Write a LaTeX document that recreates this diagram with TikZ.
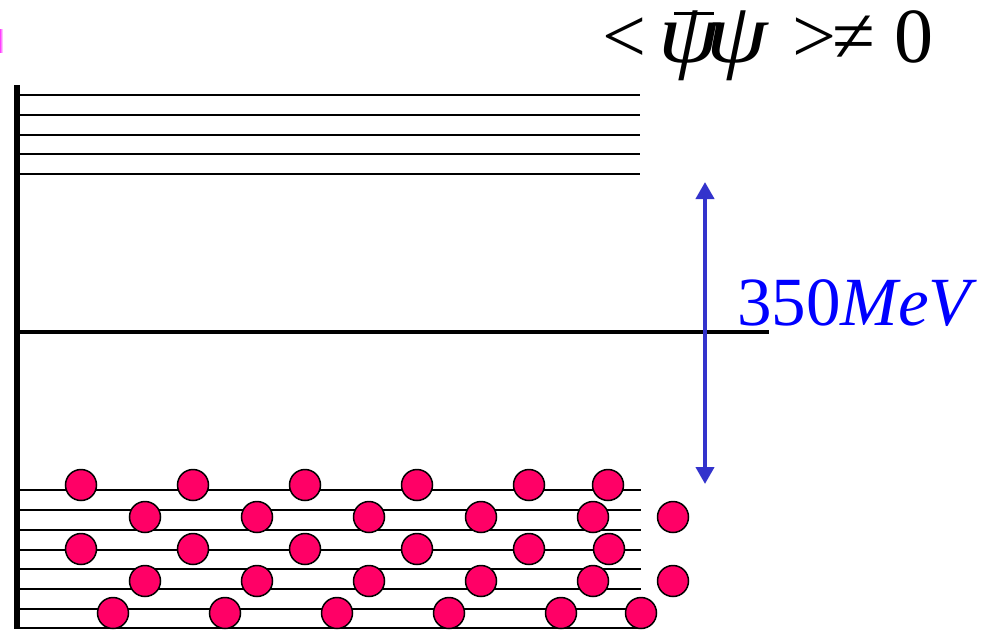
\documentclass[tikz,border=0pt]{standalone}
\usepackage{graphicx}
\usepackage{fontspec}
\setmainfont{Liberation Serif}
\usetikzlibrary{arrows.meta}
\definecolor{dotfill}{HTML}{FF0066}
\definecolor{arrowblue}{HTML}{3333CC}
\definecolor{labelblue}{HTML}{0000FF}
\newcommand{\psiglyph}{\scalebox{1.15}[1]{\fontsize{86}{90}\selectfont\itshape ψ}}
\tikzset{
  level/.style={line width=2pt, black},
  gapline/.style={line width=4.5pt, black},
  axis/.style={line width=6pt, black},
  dot/.style={circle, draw=black, line width=1.5pt, fill=dotfill, minimum size=31pt, inner sep=0pt},
  gaparrow/.style={arrowblue, line width=4pt, {Triangle[width=18pt,length=17pt]}-{Triangle[width=18pt,length=17pt]}},
  bigtext/.style={inner sep=0pt, font=\fontsize{78}{84}\selectfont},
  midtext/.style={inner sep=0pt, font=\fontsize{69}{76}\selectfont}
}
\begin{document}
\begin{tikzpicture}[x=1pt,y=-1pt]
\useasboundingbox (0,0) rectangle (998,629);
\fill[white] (0,0) rectangle (998,629);
% small pink fragment at the left edge
\shade[left color=magenta!75, right color=white] (0,29) rectangle (3,52);
% upper levels
\foreach \y [count=\i] in {95,115,134.5,154,174}{
  \coordinate (u\i a) at (20,\y);
  \coordinate (u\i b) at (640,\y);
  \draw[level] (u\i a) -- (u\i b);
}
% lower levels
\foreach \y [count=\i] in {490,510,530,549.5,569,589,609,628}{
  \coordinate (l\i a) at (20,\y);
  \coordinate (l\i b) at (641,\y);
  \draw[level] (l\i a) -- (l\i b);
}
% gap line
\coordinate (ga) at (20,332);
\coordinate (gb) at (769,332);
\draw[gapline] (ga) -- (gb);
% axis
\coordinate (axtop) at (17,85);
\coordinate (axbot) at (17,629);
\draw[axis] (axtop) -- (axbot);
% circles
\foreach \x [count=\i] in {81,193,305,417,529,608}{ \node[dot] (r1c\i) at (\x,485) {}; }
\foreach \x [count=\i] in {145,257,369,481,593,673}{ \node[dot] (r2c\i) at (\x,517) {}; }
\foreach \x [count=\i] in {81,193,305,417,529,609}{ \node[dot] (r3c\i) at (\x,549) {}; }
\foreach \x [count=\i] in {145,257,369,481,593,673}{ \node[dot] (r4c\i) at (\x,581) {}; }
\foreach \x [count=\i] in {113,225,337,449,561,641}{ \node[dot] (r5c\i) at (\x,613) {}; }
% arrow
\coordinate (atop) at (705,182);
\coordinate (abot) at (705,484);
\draw[gaparrow] (abot) -- (atop);
% labels
\node[bigtext, anchor=base west] (cond) at (602,62) {%
  \makebox[56pt][l]{<}%
  \makebox[48pt][l]{\rlap{\kern16pt\raisebox{47pt}{\rule{40pt}{3pt}}}\psiglyph}%
  \makebox[86pt][l]{\psiglyph}%
  \makebox[40pt][l]{>}%
  \makebox[62pt][l]{≠}%
  0};
\node[midtext, anchor=base west, text=labelblue] (mev) at (737,325) {350\textit{MeV}};
\end{tikzpicture}
\end{document}
